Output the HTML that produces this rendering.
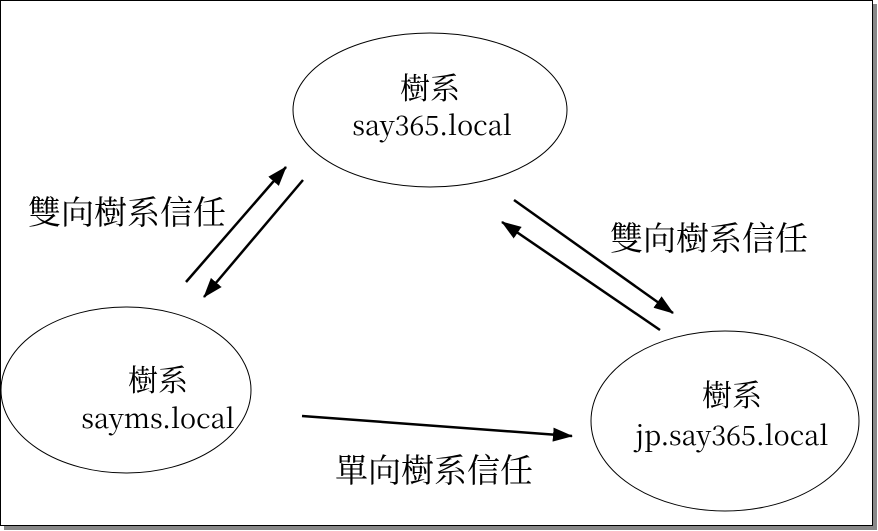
<!DOCTYPE html>
<html><head><meta charset="utf-8"><style>
html,body{margin:0;padding:0;background:#fff;}
svg{display:block;}
text{fill:#000;}
.c{font-family:"Liberation Serif","Noto Serif CJK SC","Noto Sans CJK TC",serif;}
.l{font-family:"Noto Serif CJK SC","Liberation Serif",serif;}
</style></head><body>
<svg width="878" height="531" viewBox="0 0 878 531" xmlns="http://www.w3.org/2000/svg">
<defs>
<marker id="b" markerWidth="20" markerHeight="14" refX="19" refY="7" orient="auto" markerUnits="userSpaceOnUse"><path d="M0,0 L20,7 L0,14 z" fill="#000"/></marker></defs>
<rect x="4" y="4" width="873" height="526" fill="#888"/>
<rect x="0.5" y="0.5" width="872" height="525" fill="#fff" stroke="#000" stroke-width="1"/>
<ellipse cx="430" cy="110" rx="137" ry="77" fill="none" stroke="#000" stroke-width="1"/>
<ellipse cx="126" cy="390" rx="125" ry="83" fill="none" stroke="#000" stroke-width="1"/>
<ellipse cx="725" cy="421" rx="134" ry="90" fill="none" stroke="#000" stroke-width="1"/>
<g font-size="30" text-anchor="middle">
<text class="c" x="430" y="99">樹系</text><text class="l" x="432" y="135" font-size="27">say365.local</text>
<text class="c" x="158" y="391">樹系</text><text class="l" x="158" y="428" font-size="27">sayms.local</text>
<text class="c" x="732" y="406">樹系</text><text class="l" x="732" y="445" font-size="27">jp.say365.local</text>
</g>
<g font-size="33" class="c">
<text class="c" x="28" y="224">雙向樹系信任</text>
<text class="c" x="610" y="250">雙向樹系信任</text>
<text class="c" x="335" y="482">單向樹系信任</text>
</g>
<g stroke="#000" stroke-width="2.5" fill="none">
<line x1="186" y1="282" x2="286" y2="167" marker-end="url(#b)"/>
<line x1="303" y1="180" x2="204" y2="297" marker-end="url(#b)"/>
<line x1="514" y1="200" x2="673" y2="313" marker-end="url(#b)"/>
<line x1="660" y1="330" x2="502" y2="222" marker-end="url(#b)"/>
<line x1="302" y1="416" x2="572" y2="436" marker-end="url(#b)"/>
</g>
</svg>
</body></html>
